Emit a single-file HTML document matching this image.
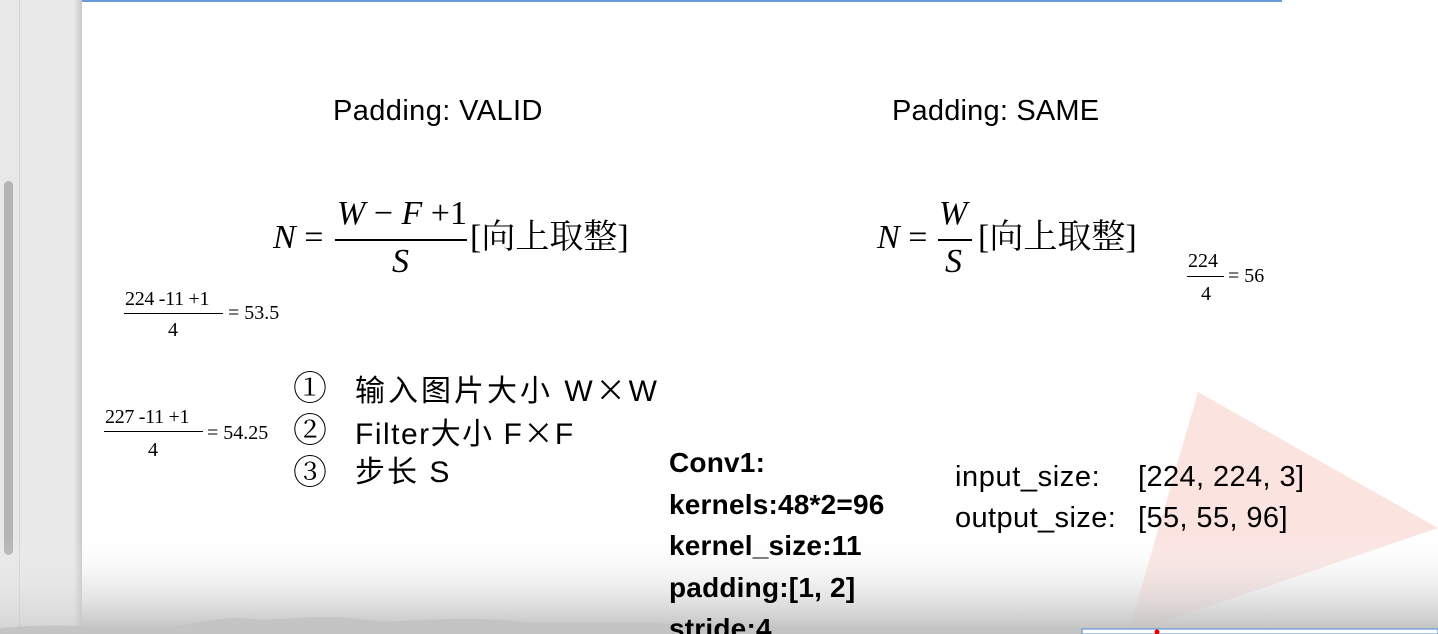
<!DOCTYPE html>
<html><head><meta charset="utf-8"><style>
html,body{margin:0;padding:0;overflow:hidden}
body{width:1438px;height:634px;position:relative;overflow:hidden;background:#fff;font-family:"Liberation Sans","Noto Sans CJK SC",sans-serif;color:#000}
.a{position:absolute;white-space:nowrap;line-height:1}
.ser{font-family:"Liberation Serif","Noto Serif CJK SC",serif}
.bar{position:absolute;height:1.5px;background:#000}
.x{font-family:"Noto Sans CJK SC",sans-serif;font-size:30px}
</style></head><body>
<div style="position:absolute;left:0;top:0;width:82px;height:634px;background:#e8e8e8"></div>
<div style="position:absolute;left:19px;top:0;width:1px;height:634px;background:#d4d4d4"></div>
<div style="position:absolute;left:4px;top:181px;width:9px;height:374px;border-radius:5px;background:#b4b4b4"></div>
<div style="position:absolute;left:74px;top:0;width:8px;height:634px;background:linear-gradient(90deg,#e8e8e8,#c8c8c8)"></div>
<div style="position:absolute;left:82px;top:0;width:1200px;height:2px;background:#6a9ad8"></div>

<svg style="position:absolute;left:0;top:0" width="1438" height="634">
<defs><linearGradient id="g" x1="0" y1="0" x2="0" y2="1">
<stop offset="0" stop-color="#fff" stop-opacity="0"/><stop offset="1" stop-color="#bdbdbd"/></linearGradient></defs>
<polygon points="1198,392 1438,528 1128,634" fill="#fbe3e0"/>
<rect x="82" y="535" width="1356" height="99" fill="url(#g)"/>
<rect x="0" y="535" width="82" height="99" fill="url(#g)" opacity="0.5"/>
<path d="M0,634 L0,628 C60,622 120,630 180,626 C220,618 240,616 260,620 C300,618 340,614 380,622 C420,620 480,616 520,622 C560,624 640,620 700,626 L1082,626 L1082,634 Z" fill="#c4c4c4"/>
<rect x="1082" y="629" width="356" height="5" fill="#fff" stroke="#4a8ad8" stroke-width="1"/>
<circle cx="1157" cy="632" r="2.5" fill="#e00"/>
</svg>

<div class="a" style="left:333px;top:97px;font-size:29px;letter-spacing:0.4px">Padding: VALID</div>
<div class="a" style="left:892px;top:97px;font-size:29px;letter-spacing:0.2px">Padding: SAME</div>

<div class="a ser" style="left:273px;top:221px;font-size:34px"><i>N</i> =</div>
<div class="a ser" style="left:337px;top:197px;font-size:34px"><i>W</i> &minus; <i>F</i> +1</div>
<div class="bar" style="left:335px;top:239px;width:132px"></div>
<div class="a ser" style="left:392px;top:245px;font-size:34px"><i>S</i></div>
<div class="a ser" style="left:470px;top:221px;font-size:34px">[向上取整]</div>

<div class="a ser" style="left:877px;top:221px;font-size:34px"><i>N</i> =</div>
<div class="a ser" style="left:939px;top:197px;font-size:34px"><i>W</i></div>
<div class="bar" style="left:938px;top:239px;width:34px"></div>
<div class="a ser" style="left:945px;top:245px;font-size:34px"><i>S</i></div>
<div class="a ser" style="left:978px;top:221px;font-size:34px">[向上取整]</div>

<div class="a ser" style="left:125px;top:289px;font-size:20px;letter-spacing:-0.3px">224 -11 +1</div>
<div class="bar" style="left:124px;top:313px;width:99px;height:1px"></div>
<div class="a ser" style="left:168px;top:320px;font-size:20px">4</div>
<div class="a ser" style="left:228px;top:303px;font-size:20px">= 53.5</div>

<div class="a ser" style="left:105px;top:407px;font-size:20px;letter-spacing:-0.3px">227 -11 +1</div>
<div class="bar" style="left:104px;top:431px;width:99px;height:1px"></div>
<div class="a ser" style="left:148px;top:440px;font-size:20px">4</div>
<div class="a ser" style="left:207px;top:423px;font-size:20px">= 54.25</div>

<div class="a ser" style="left:1188px;top:251px;font-size:20px">224</div>
<div class="bar" style="left:1187px;top:276px;width:37px;height:1px"></div>
<div class="a ser" style="left:1201px;top:284px;font-size:20px">4</div>
<div class="a ser" style="left:1228px;top:266px;font-size:20px">= 56</div>

<div class="a ser" style="left:293px;top:373px;font-size:34px">①</div>
<div class="a ser" style="left:293px;top:415px;font-size:34px">②</div>
<div class="a ser" style="left:293px;top:457px;font-size:34px">③</div>
<div class="a" style="left:355px;top:373px;font-size:30px;letter-spacing:3px">输入图片大小 W<span class="x">×</span>W</div>
<div class="a" style="left:355px;top:416px;font-size:30px;letter-spacing:1.5px">Filter大小 F<span class="x">×</span>F</div>
<div class="a" style="left:355px;top:458px;font-size:30px;letter-spacing:2px">步长 S</div>

<div class="a" style="left:669px;top:442px;font-size:28px;font-weight:bold;line-height:41.5px;letter-spacing:0.2px">Conv1:<br>kernels:48*2=96<br>kernel_size:11<br>padding:[1, 2]<br>stride:4</div>

<div class="a" style="left:955px;top:463px;font-size:29px;letter-spacing:0.6px">input_size:</div>
<div class="a" style="left:1138px;top:463px;font-size:29px;letter-spacing:0.4px">[224, 224, 3]</div>
<div class="a" style="left:955px;top:504px;font-size:29px;letter-spacing:0.4px">output_size:</div>
<div class="a" style="left:1138px;top:504px;font-size:29px;letter-spacing:0.4px">[55, 55, 96]</div>
</body></html>
